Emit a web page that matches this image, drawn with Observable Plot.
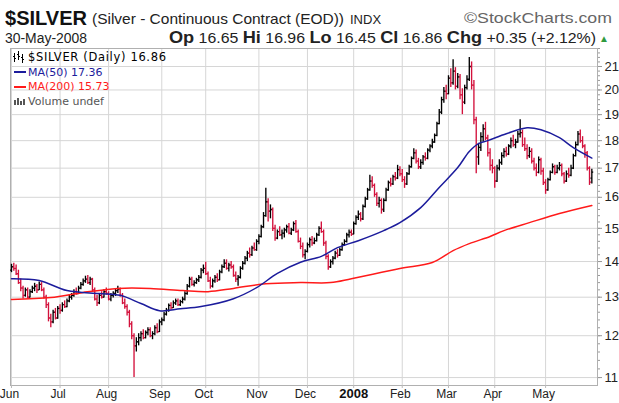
<!DOCTYPE html>
<html>
<head>
<meta charset="utf-8">
<script src="https://cdn.jsdelivr.net/npm/d3@7"></script>
<script src="https://cdn.jsdelivr.net/npm/@observablehq/plot@0.6"></script>
<style>
  html, body { margin: 0; padding: 0; background: #fff; }
  #wrap { width: 619px; height: 403px; overflow: hidden; position: relative; }
  #hdr { display: block; }
  #chart svg { display: block; }
</style>
</head>
<body>
<div id="wrap">
<svg id="hdr" width="619" height="46" xmlns="http://www.w3.org/2000/svg" font-family="Liberation Sans, Arial, sans-serif">
  <text x="5" y="25" font-size="21" font-weight="bold" fill="#111" textLength="82" lengthAdjust="spacingAndGlyphs">$SILVER</text>
  <text x="92" y="24" font-size="15" fill="#222" textLength="252" lengthAdjust="spacingAndGlyphs">(Silver - Continuous Contract (EOD))</text>
  <text x="350" y="24" font-size="13" fill="#222">INDX</text>
  <text x="612" y="23" font-size="15" fill="#666" text-anchor="end" textLength="148" lengthAdjust="spacingAndGlyphs">©StockCharts.com</text>
  <text x="5" y="43" font-size="14" fill="#222" textLength="82" lengthAdjust="spacingAndGlyphs">30-May-2008</text>
  <text x="169" y="43" font-size="14" fill="#222" textLength="427" lengthAdjust="spacingAndGlyphs"><tspan font-weight="bold" font-size="16">Op</tspan> 16.65 <tspan font-weight="bold" font-size="16">Hi</tspan> 16.96 <tspan font-weight="bold" font-size="16">Lo</tspan> 16.45 <tspan font-weight="bold" font-size="16">Cl</tspan> 16.86 <tspan font-weight="bold" font-size="16">Chg</tspan> +0.35 (+2.12%)</text>
  <text x="599" y="42" font-size="10" fill="#2e9a3e">▲</text>
</svg>
<div id="chart"></div>
</div>
<script>
// ---- Data ----
// trading-day index of the first session of each month, and its axis label
const monthStart = [0, 21, 42, 65, 84, 107, 128, 148, 169, 189, 209, 231];
const monthLabel = ["Jun", "Jul", "Aug", "Sep", "Oct", "Nov", "Dec", "2008", "Feb", "Mar", "Apr", "May"];
const yTicks = [11, 12, 13, 14, 15, 16, 17, 18, 19, 20, 21];

// daily OHLC, Jun 1 2007 .. May 30 2008 (one value per trading day)
const open = [
  13.75,13.85,13.80,13.65,13.40,13.25,13.05,13.20,13.00,13.15,13.25,13.30,13.20,13.35,13.20,13.00,12.80,12.45,12.35,12.60,12.45,
  12.70,12.65,12.80,12.75,12.90,13.00,13.05,13.15,13.10,13.25,13.35,13.45,13.50,13.40,13.50,13.20,12.95,12.85,13.05,13.00,13.15,
  13.10,12.95,13.05,13.10,13.18,13.22,13.05,12.85,12.75,12.60,12.30,12.00,11.75,11.85,11.95,12.05,11.95,12.08,12.15,12.00,12.05,12.20,12.10,
  12.35,12.40,12.55,12.65,12.78,12.72,12.85,12.90,12.80,12.88,12.95,13.10,13.30,13.50,13.35,13.40,13.48,13.55,13.75,
  13.80,13.65,13.45,13.30,13.45,13.55,13.48,13.70,13.85,13.95,13.80,13.90,13.85,13.60,13.50,13.55,13.80,13.95,14.10,14.25,14.20,14.40,14.35,
  14.60,14.75,15.05,15.40,15.85,15.55,15.60,15.00,14.70,14.90,14.80,14.85,14.95,15.05,14.85,14.95,15.15,14.90,14.60,14.45,14.20,
  14.30,14.50,14.65,14.55,14.62,14.80,15.00,14.90,14.55,14.15,13.85,14.00,14.10,14.25,14.18,14.35,14.50,14.60,14.80,14.88,
  14.82,15.15,15.35,15.45,15.30,15.70,15.95,16.25,16.55,16.40,16.10,15.80,15.90,15.60,15.90,16.25,16.50,16.45,16.70,16.65,16.95,
  16.80,16.60,16.45,16.80,17.05,17.35,17.55,17.25,17.05,17.20,17.40,17.35,17.65,17.80,17.95,18.20,18.65,19.10,19.60,19.95,
  19.85,20.50,20.30,20.80,20.15,20.55,19.80,19.50,20.10,20.45,21.00,20.20,18.80,17.40,17.75,18.15,18.45,18.10,17.55,17.10,
  17.00,16.55,17.00,17.20,17.45,17.60,17.50,17.80,18.00,17.85,17.95,18.25,18.30,17.85,17.70,17.45,17.60,17.25,17.00,16.85,17.30,16.90,
  16.50,16.25,16.60,16.85,17.05,16.85,17.00,17.10,16.80,16.55,16.80,16.75,17.00,17.45,17.85,18.25,18.00,17.80,17.55,17.00,16.65
];
const high = [
  13.92,13.95,13.90,13.75,13.50,13.30,13.25,13.25,13.20,13.30,13.38,13.35,13.42,13.40,13.25,13.05,12.85,12.55,12.65,12.70,12.75,
  12.80,12.85,12.90,12.95,13.05,13.10,13.20,13.25,13.30,13.40,13.50,13.58,13.60,13.55,13.52,13.25,13.05,13.10,13.15,13.20,13.25,
  13.15,13.10,13.15,13.22,13.30,13.25,13.10,12.95,12.80,12.65,12.35,12.05,11.95,12.05,12.10,12.15,12.12,12.20,12.20,12.10,12.25,12.30,12.40,
  12.45,12.60,12.70,12.82,12.85,12.90,12.95,12.95,12.92,13.00,13.15,13.35,13.55,13.55,13.45,13.52,13.60,13.80,13.90,
  13.98,13.70,13.55,13.50,13.60,13.65,13.75,13.90,14.05,14.05,13.95,14.00,13.90,13.70,13.60,13.85,14.00,14.15,14.30,14.40,14.45,14.55,14.65,
  14.80,15.10,15.50,16.30,15.95,15.75,15.65,15.10,14.95,15.05,14.95,15.00,15.10,15.15,15.00,15.20,15.25,14.95,14.70,14.55,14.35,
  14.55,14.70,14.75,14.70,14.85,15.05,15.20,14.95,14.60,14.20,14.05,14.15,14.30,14.35,14.40,14.55,14.65,14.85,14.95,14.95,
  15.20,15.40,15.55,15.50,15.75,16.00,16.30,16.75,16.70,16.45,16.15,16.00,15.95,15.95,16.30,16.55,16.65,16.75,16.85,17.10,17.05,
  16.95,16.70,16.85,17.10,17.40,17.70,17.65,17.35,17.30,17.45,17.55,17.70,17.85,18.05,18.25,18.70,19.20,19.70,20.10,20.20,
  20.60,20.90,21.30,20.95,20.70,20.65,20.05,20.20,20.60,21.40,21.20,20.40,18.90,17.90,18.30,18.60,18.70,18.20,17.70,17.30,
  17.05,17.10,17.30,17.55,17.70,17.75,17.85,18.10,18.20,18.05,18.35,18.80,18.40,18.10,17.85,17.75,17.70,17.35,17.15,17.40,17.35,17.00,
  16.60,16.65,16.90,17.15,17.10,17.10,17.20,17.15,16.85,16.90,17.00,17.10,17.50,17.95,18.35,18.40,18.15,17.85,17.60,17.05,16.96
];
const low = [
  13.68,13.72,13.60,13.35,13.15,12.95,13.00,12.95,12.98,13.10,13.15,13.10,13.18,13.15,12.95,12.70,12.35,12.20,12.30,12.40,12.42,
  12.55,12.60,12.70,12.72,12.85,12.92,13.00,13.05,13.08,13.20,13.30,13.38,13.35,13.32,13.15,12.90,12.75,12.80,12.95,12.98,13.05,
  12.90,12.88,12.98,13.02,13.10,13.00,12.80,12.68,12.50,12.20,11.90,11.00,11.60,11.75,11.85,11.90,11.92,12.00,11.95,11.90,12.00,12.05,12.08,
  12.25,12.35,12.50,12.60,12.65,12.70,12.78,12.75,12.75,12.82,12.90,13.05,13.25,13.30,13.28,13.35,13.40,13.50,13.65,
  13.60,13.40,13.22,13.25,13.38,13.40,13.45,13.65,13.80,13.75,13.70,13.78,13.55,13.40,13.30,13.50,13.75,13.90,14.00,14.10,14.15,14.30,14.30,
  14.50,14.70,15.00,15.35,15.20,15.30,14.90,14.60,14.65,14.75,14.65,14.70,14.85,14.80,14.78,14.90,14.85,14.55,14.35,14.10,14.05,
  14.25,14.40,14.45,14.50,14.58,14.75,14.85,14.45,14.05,13.75,13.80,13.90,14.05,14.10,14.15,14.30,14.45,14.55,14.70,14.75,
  14.80,15.10,15.25,15.20,15.25,15.65,15.90,16.20,16.30,16.00,15.70,15.65,15.45,15.50,15.85,16.20,16.35,16.40,16.55,16.60,16.70,
  16.50,16.30,16.40,16.75,17.00,17.30,17.15,16.95,16.95,17.10,17.25,17.30,17.55,17.70,17.90,18.15,18.60,19.00,19.45,19.60,
  19.80,20.10,20.20,20.00,20.05,19.60,19.00,19.40,20.00,20.35,20.00,18.60,16.80,17.10,17.60,17.95,18.00,17.40,16.90,16.80,
  16.30,16.50,16.90,17.10,17.35,17.40,17.45,17.70,17.75,17.70,17.90,18.10,17.75,17.60,17.30,17.35,17.15,16.90,16.70,16.80,16.75,16.40,
  16.10,16.20,16.55,16.80,16.75,16.80,16.90,16.70,16.45,16.50,16.65,16.70,16.95,17.40,17.80,17.90,17.70,17.35,16.90,16.40,16.45
];
const close = [
  13.85,13.80,13.65,13.40,13.25,13.05,13.20,13.00,13.15,13.25,13.30,13.20,13.35,13.20,13.00,12.80,12.45,12.35,12.60,12.45,12.70,
  12.65,12.80,12.75,12.90,13.00,13.05,13.15,13.10,13.25,13.35,13.45,13.50,13.40,13.50,13.20,12.95,12.85,13.05,13.00,13.15,13.10,
  12.95,13.05,13.10,13.18,13.22,13.05,12.85,12.75,12.60,12.30,12.00,11.75,11.85,11.95,12.05,11.95,12.08,12.15,12.00,12.05,12.20,12.10,12.35,
  12.40,12.55,12.65,12.78,12.72,12.85,12.90,12.80,12.88,12.95,13.10,13.30,13.50,13.35,13.40,13.48,13.55,13.75,13.80,
  13.65,13.45,13.30,13.45,13.55,13.48,13.70,13.85,13.95,13.80,13.90,13.85,13.60,13.50,13.55,13.80,13.95,14.10,14.25,14.20,14.40,14.35,14.60,
  14.75,15.05,15.40,15.85,15.55,15.60,15.00,14.70,14.90,14.80,14.85,14.95,15.05,14.85,14.95,15.15,14.90,14.60,14.45,14.20,14.30,
  14.50,14.65,14.55,14.62,14.80,15.00,14.90,14.55,14.15,13.85,14.00,14.10,14.25,14.18,14.35,14.50,14.60,14.80,14.88,14.82,
  15.15,15.35,15.45,15.30,15.70,15.95,16.25,16.55,16.40,16.10,15.80,15.90,15.60,15.90,16.25,16.50,16.45,16.70,16.65,16.95,16.80,
  16.60,16.45,16.80,17.05,17.35,17.55,17.25,17.05,17.20,17.40,17.35,17.65,17.80,17.95,18.20,18.65,19.10,19.60,19.95,19.85,
  20.50,20.30,20.80,20.15,20.55,19.80,19.50,20.10,20.45,21.00,20.20,18.80,17.40,17.75,18.15,18.45,18.10,17.55,17.10,17.00,
  16.55,17.00,17.20,17.45,17.60,17.50,17.80,18.00,17.85,17.95,18.25,18.30,17.85,17.70,17.45,17.60,17.25,17.00,16.85,17.30,16.90,16.50,
  16.25,16.60,16.85,17.05,16.85,17.00,17.10,16.80,16.55,16.80,16.75,17.00,17.45,17.85,18.25,18.00,17.80,17.55,17.00,16.51,16.86
];

// moving averages: [trading-day index, value]
const ma50 = [
  [0,13.51],[12,13.46],[24,13.18],[38,13.10],[47,13.05],[56,12.83],[64,12.64],[73,12.69],[82,12.75],
  [96,12.96],[106,13.26],[115,13.66],[125,13.98],[134,14.15],[141,14.41],[150,14.62],[161,14.93],
  [168,15.18],[177,15.66],[185,16.33],[193,17.02],[198,17.60],[202,17.89],[206,18.00],[214,18.26],
  [223,18.49],[229,18.41],[237,18.11],[243,17.74],[251,17.36]
];
const ma200 = [
  [0,12.94],[17,12.99],[31,13.13],[46,13.24],[60,13.24],[74,13.18],[85,13.15],[96,13.24],[110,13.37],
  [125,13.40],[138,13.40],[147,13.51],[168,13.80],[182,13.97],[191,14.32],[198,14.53],[207,14.75],
  [213,14.93],[224,15.18],[237,15.47],[251,15.73]
];

const legendText = ["$SILVER (Daily) 16.86", "MA(50) 17.36", "MA(200) 15.73", "Volume undef"];
const legendColor = ["#000000", "#1c1c9c", "#ff1a1a", "#555555"];

// ---- Build ----
const UP = "#000000", DOWN = "#d3113c";
const bars = close.map((c, i) => ({
  i, o: open[i], h: high[i], l: low[i], c,
  col: (i === 0 || c >= close[i - 1]) ? UP : DOWN
}));
const months = monthStart.map((i, k) => ({i, label: monthLabel[k], year: /^\d+$/.test(monthLabel[k])}));
const minorTicks = d3.range(110, 219, 2).map(v => v / 10);

// legend drawn in the plot's top-left corner
function legendMark(index, scales, values, dims) {
  const g = d3.create("svg:g");
  const x0 = dims.marginLeft, y0 = dims.marginTop;
  // ohlc icon
  const ic = g.append("g").attr("stroke", "#000").attr("stroke-width", 1);
  [[4, 5, 14], [8, 3, 12], [12, 6, 15]].forEach(([dx, a, b]) => {
    ic.append("line").attr("x1", x0 + dx + 0.5).attr("x2", x0 + dx + 0.5).attr("y1", y0 + a).attr("y2", y0 + b);
    ic.append("line").attr("x1", x0 + dx - 1).attr("x2", x0 + dx + 0.5).attr("y1", y0 + a + 3.5).attr("y2", y0 + a + 3.5);
    ic.append("line").attr("x1", x0 + dx + 0.5).attr("x2", x0 + dx + 2).attr("y1", y0 + b - 3.5).attr("y2", y0 + b - 3.5);
  });
  g.append("line").attr("x1", x0 + 4).attr("x2", x0 + 16).attr("y1", y0 + 24).attr("y2", y0 + 24)
    .attr("stroke", legendColor[1]).attr("stroke-width", 2);
  g.append("line").attr("x1", x0 + 4).attr("x2", x0 + 16).attr("y1", y0 + 39).attr("y2", y0 + 39)
    .attr("stroke", legendColor[2]).attr("stroke-width", 2);
  [[4, 5], [7, 7], [10, 4], [13, 6]].forEach(([dx, h]) => {
    g.append("rect").attr("x", x0 + dx).attr("y", y0 + 57 - h).attr("width", 2).attr("height", h).attr("fill", "#555");
  });
  const t = g.append("g").attr("font-family", "DejaVu Sans, Verdana, sans-serif").attr("font-size", 11)
    .attr("text-anchor", "start");
  legendText.forEach((s, k) => {
    const el = t.append("text").attr("x", x0 + 18).attr("y", y0 + 13 + k * 14.5).attr("text-anchor", "start")
      .attr("fill", legendColor[k]).text(s);
    if (k === 0) el.attr("textLength", 138).attr("lengthAdjust", "spacing").attr("font-size", 11.5);
  });
  return g.node();
}

const plot = Plot.plot({
  width: 619,
  height: 357,
  marginTop: 2,
  marginBottom: 18,
  marginLeft: 10,
  marginRight: 22,
  x: {domain: [-0.43, 253.45], axis: null},
  y: {type: "log", domain: [10.82, 21.8], axis: null},
  color: {type: "identity"},
  style: {fontFamily: "Liberation Sans, Arial, sans-serif", background: "#fff", overflow: "visible"},
  marks: [
    Plot.gridY(yTicks, {stroke: "#d6d6d6", strokeOpacity: 1}),
    Plot.gridX(monthStart, {stroke: "#d6d6d6", strokeOpacity: 1}),
    Plot.frame({stroke: "#b0b0b0"}),
    Plot.axisY(minorTicks, {anchor: "right", tickSize: 2, tickFormat: () => "", stroke: "#999", label: null}),
    Plot.axisY(yTicks, {anchor: "right", tickSize: 4, tickPadding: 3, fontSize: 13, fill: "#222", stroke: "#999", label: null, tickFormat: d => String(d)}),
    Plot.axisX(monthStart, {anchor: "bottom", tickSize: 3, stroke: "#bbb", tickFormat: () => "", label: null}),
    Plot.text(months.filter(d => !d.year), {x: "i", text: "label", frameAnchor: "bottom", dy: 12, dx: -2, fontSize: 12, fill: "#222", ariaLabel: "xlabels"}),
    Plot.text(months.filter(d => d.year), {x: "i", text: "label", frameAnchor: "bottom", dy: 12, fontSize: 13, fontWeight: "bold", fill: "#111"}),
    // OHLC bars
    Plot.ruleX(bars, {x: "i", y1: "l", y2: "h", stroke: "col", strokeWidth: 1.35}),
    Plot.link(bars, {x1: d => d.i - 0.6, x2: "i", y1: "o", y2: "o", stroke: "col", strokeWidth: 1.3}),
    Plot.link(bars, {x1: "i", x2: d => d.i + 0.6, y1: "c", y2: "c", stroke: "col", strokeWidth: 1.3}),
    // moving averages
    Plot.line(ma200, {x: d => d[0], y: d => d[1], stroke: legendColor[2], strokeWidth: 1.5, curve: "catmull-rom"}),
    Plot.line(ma50, {x: d => d[0], y: d => d[1], stroke: legendColor[1], strokeWidth: 1.5, curve: "catmull-rom"}),
    legendMark
  ]
});
document.getElementById("chart").appendChild(plot);

const xl = plot.querySelector('[aria-label="xlabels"]');
if (xl) xl.style.letterSpacing = "1px";
</script>
</body>
</html>
